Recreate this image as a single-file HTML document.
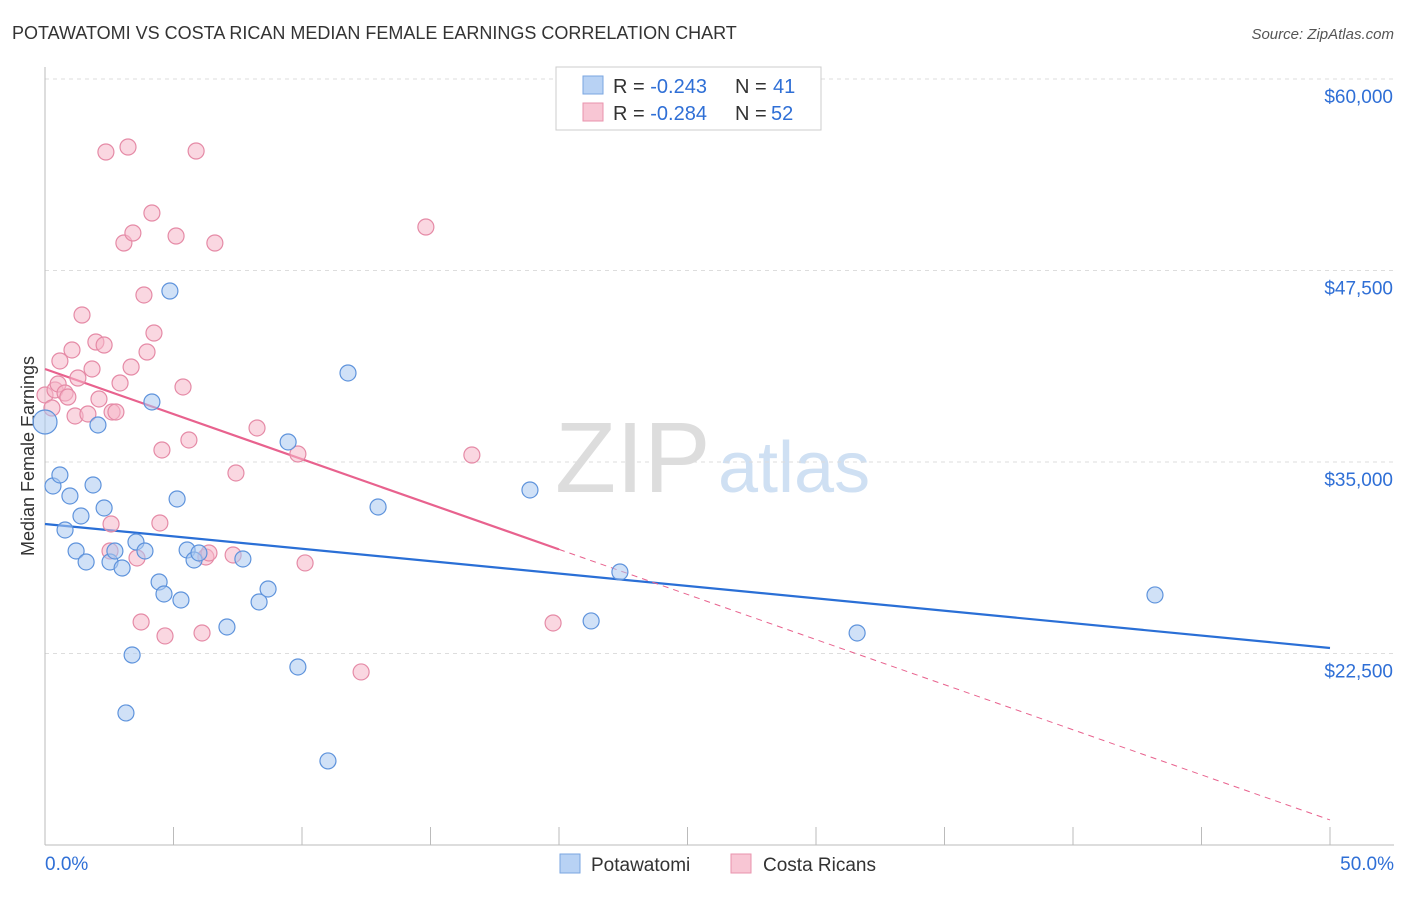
<!DOCTYPE html>
<html><head><meta charset="utf-8"><style>
body{margin:0;background:#fff;font-family:"Liberation Sans",sans-serif}
svg text{font-family:"Liberation Sans",sans-serif}
</style></head><body>
<svg id="chart" width="1406" height="892">
<text x="12" y="39" font-size="18" fill="#333">POTAWATOMI VS COSTA RICAN MEDIAN FEMALE EARNINGS CORRELATION CHART</text>
<text x="1394" y="39" font-size="15" fill="#555" font-style="italic" text-anchor="end">Source: ZipAtlas.com</text>
<text transform="translate(34,456) rotate(-90)" font-size="18" fill="#333" text-anchor="middle">Median Female Earnings</text>
<text x="555" y="492" font-size="100" fill="#ddd" font-family="Liberation Serif">ZIP</text>
<text x="718" y="492" font-size="72" fill="#cfe0f3">atlas</text>
<g id="grid"></g><g id="axes"></g><g id="trends"></g><g id="pts"></g>
<g>
<rect x="556" y="67" width="265" height="63" fill="#fff" stroke="#ccc"/>
<rect x="583" y="76" width="20" height="18" fill="#b8d2f4" stroke="#7aa6e0"/>
<text x="613" y="93" font-size="20" fill="#333">R = <tspan fill="#2f6fd6">-0.243</tspan></text>
<text x="735" y="93" font-size="20" fill="#333">N =</text>
<text x="773" y="93" font-size="20" fill="#2f6fd6">41</text>
<rect x="583" y="103" width="20" height="18" fill="#f8c6d4" stroke="#e993ad"/>
<text x="613" y="120" font-size="20" fill="#333">R = <tspan fill="#2f6fd6">-0.284</tspan></text>
<text x="735" y="120" font-size="20" fill="#333">N =</text>
<text x="771" y="120" font-size="20" fill="#2f6fd6">52</text>
</g>
<g>
<rect x="560" y="854" width="20" height="19" fill="#b8d2f4" stroke="#7aa6e0"/>
<text x="591" y="871" font-size="19" fill="#333">Potawatomi</text>
<rect x="731" y="854" width="20" height="19" fill="#f8c6d4" stroke="#e993ad"/>
<text x="763" y="871" font-size="19" fill="#333">Costa Ricans</text>
</g>
</svg>
<script>
const blueX=[0,0.31,0.58,0.78,0.97,1.21,1.40,1.60,1.87,2.06,2.30,2.53,2.72,3.00,3.15,3.39,3.54,3.89,4.16,4.44,4.63,4.86,5.14,5.29,5.53,5.80,5.99,7.08,7.70,8.33,8.68,9.46,9.84,11.01,11.79,12.96,18.87,21.25,22.37,31.60,43.19];
const blueY=[37612,33435,34153,30563,32782,29193,31477,28475,33500,37417,31999,28475,29193,28083,18619,22404,29780,29193,38918,27169,26386,46163,32587,25994,29258,28605,29062,24232,28670,25864,26712,36307,21621,15486,40811,32064,33174,24624,27822,23840,26321];
const pinkX=[0,0.27,0.39,0.51,0.58,0.78,0.89,1.05,1.17,1.28,1.44,1.67,1.83,1.98,2.10,2.30,2.37,2.53,2.61,2.76,2.92,3.07,3.23,3.35,3.42,3.58,3.74,3.85,3.97,4.16,4.24,4.47,4.55,4.67,5.10,5.37,5.60,5.88,6.11,6.26,6.38,6.61,7.32,7.43,8.25,9.84,10.12,12.30,14.82,16.61,19.77,2.57];
const pinkY=[39375,38526,39701,40093,41594,39505,39244,42312,38004,40484,44596,38135,41072,42834,39114,42638,55235,29193,38265,38265,40158,49296,55562,41202,49948,28736,24558,45902,42181,51254,43421,31020,35785,23645,49753,39897,36438,55301,23840,28801,29062,49296,28931,34284,37221,35524,28410,21295,50340,35458,24493,30955];
const yTicks=[60000,47500,35000,22500];
const yTickLabels=["$60,000","$47,500","$35,000","$22,500"];
const xTickLabels=["0.0%","50.0%"];
const blueTrend=[30955,22861];
const pinkTrend=[41072,11635];
const NS="http://www.w3.org/2000/svg";
const X=v=>45+v/50*1285;
const Y=v=>79+(60000-v)/12500*191.5;
function mk(p,t,a){const e=document.createElementNS(NS,t);for(const k in a)e.setAttribute(k,a[k]);document.getElementById(p).appendChild(e);return e;}
yTicks.forEach((t,i)=>{
 const l=mk('grid','line',{x1:45,x2:1394,y1:Y(t),y2:Y(t),stroke:'#ddd','stroke-dasharray':'4,4'});
 
 
 const tx=mk('grid','text',{x:1393,y:Y(t)+24,'font-size':19,fill:'#2f6fd6','text-anchor':'end'});
 tx.textContent=yTickLabels[i];
 
 
});
let a=mk('axes','line',{x1:45,x2:45,y1:67,y2:845,stroke:'#bbb'});


a=mk('axes','line',{x1:45,x2:1394,y1:845,y2:845,stroke:'#bbb'});


for(let i=0;i<=10;i++){const t=mk('axes','line',{x1:X(i*5),x2:X(i*5),y1:827,y2:845,stroke:'#bbb'});
 
 }
[[0,'start',45],[50,'end',1394]].forEach((d,i)=>{const t=mk('axes','text',{x:d[2],y:870,'font-size':19,fill:'#2f6fd6','text-anchor':d[1]});t.textContent=xTickLabels[i];
 
 });
function pt(g,x,y,f,s,r,name){const c=mk(g,'circle',{cx:X(x),cy:Y(y),r:r,fill:f,'fill-opacity':0.55,stroke:s,'stroke-width':1.2});
 
 }
pinkX.forEach((x,i)=>pt('pts',x,pinkY[i],'#f6b6c9','#e58aa6',8,'costa-rican-point'));
blueX.forEach((x,i)=>pt('pts',x,blueY[i],'#a9c8f0','#5e93dc',i===0?12:8,'potawatomi-point'));
let l=mk('trends','line',{x1:X(0),y1:Y(blueTrend[0]),x2:X(50),y2:Y(blueTrend[1]),stroke:'#2a6fd6','stroke-width':2.2});


const py=x=>pinkTrend[0]+(pinkTrend[1]-pinkTrend[0])*x/50;
l=mk('trends','line',{x1:X(0),y1:Y(py(0)),x2:X(20),y2:Y(py(20)),stroke:'#e8628e','stroke-width':2.2});


l=mk('trends','line',{x1:X(20),y1:Y(py(20)),x2:X(50),y2:Y(py(50)),stroke:'#e8628e','stroke-width':1,'stroke-dasharray':'6,5'});


</script>
</body></html>
